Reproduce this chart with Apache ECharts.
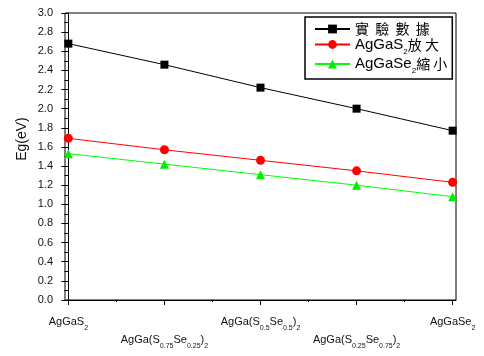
<!DOCTYPE html>
<html>
<head>
<meta charset="utf-8">
<script src="https://cdn.jsdelivr.net/npm/echarts@6/dist/echarts.min.js"></script>
<style>
  html, body { margin: 0; padding: 0; background: #fff; }
  #chart { width: 484px; height: 356px; }
</style>
</head>
<body>
<div id="chart"></div>
<script>
// 样品（x 轴位置 0..4）
const samples = [0, 1, 2, 3, 4];
const sampleLabels = [
    'AgGaS{s|2}',
    'AgGa(S{s|0.75}Se{s|0.25}){s|2}',
    'AgGa(S{s|0.5}Se{s|0.5}){s|2}',
    'AgGa(S{s|0.25}Se{s|0.75}){s|2}',
    'AgGaSe{s|2}'
];
// 能隙数据 (eV)
const expData = [2.68, 2.46, 2.22, 2.00, 1.77];
const sData = [1.69, 1.57, 1.46, 1.35, 1.23];
const seData = [1.53, 1.42, 1.31, 1.20, 1.08];
const seriesNames = ['實驗數據', 'AgGaS2放大', 'AgGaSe2縮小'];
const legendLabels = ['{c|實  驗  數  據}', '{t|AgGaS}{s|2}{c|放 大}', '{t|AgGaSe}{s|2}{c|縮 小}'];

const font = '"Liberation Sans", Arial, "Noto Sans CJK TC", sans-serif';
const cjkFont = '"Noto Sans CJK TC", sans-serif';
const pairs = (ys) => samples.map((x, i) => [x, ys[i]]);

const chart = echarts.init(document.getElementById('chart'));

// 下标：主文字贴顶、下标贴底，靠行高拉开
const labelRich = {
    n: { fontSize: 11, fontFamily: font, color: '#111', verticalAlign: 'top', lineHeight: 16 },
    s: { fontSize: 7, fontFamily: font, color: '#111', verticalAlign: 'bottom' }
};
const fmtSample = (v) => {
    const i = Math.round(v);
    return sampleLabels[i].replace(/(^|\})([^{}]+?)(?=\{|$)/g, (m, a, b) => a + '{n|' + b + '}');
};

chart.setOption({
    animation: false,
    backgroundColor: '#fff',
    grid: { left: 65, right: 28, top: 13, bottom: 56, show: true, borderColor: '#000', borderWidth: 1 },
    legend: {
        orient: 'vertical',
        left: 305,
        top: 17,
        data: seriesNames,
        backgroundColor: '#fff',
        borderColor: '#000',
        borderWidth: 1.5,
        borderRadius: 0,
        padding: [5, 5, 4, 9],
        itemWidth: 35,
        itemHeight: 11,
        itemGap: 1,
        formatter: (name) => legendLabels[seriesNames.indexOf(name)],
        textStyle: {
            fontSize: 15,
            fontFamily: font,
            color: '#000',
            rich: {
                t: { fontSize: 15, fontFamily: font, color: '#000', lineHeight: 22, verticalAlign: 'middle' },
                c: { fontSize: 14, fontFamily: cjkFont, color: '#000', lineHeight: 22, verticalAlign: 'middle' },
                s: { fontSize: 8, fontFamily: font, color: '#000', verticalAlign: 'bottom' }
            }
        }
    },
    xAxis: [
        {
            type: 'value',
            min: -0.035,
            max: 4.035,
            position: 'bottom',
            splitLine: { show: false },
            axisLine: { lineStyle: { color: '#000', width: 1 } },
            axisTick: { customValues: samples, length: 5, lineStyle: { color: '#000' } },
            axisLabel: {
                customValues: [0, 2, 4],
                margin: 16,
                formatter: fmtSample,
                rich: labelRich
            }
        },
        {
            type: 'value',
            min: -0.035,
            max: 4.035,
            position: 'bottom',
            splitLine: { show: false },
            axisLine: { show: false },
            axisTick: { customValues: [0.5, 1.5, 2.5, 3.5], length: 2, lineStyle: { color: '#000' } },
            axisLabel: {
                customValues: [1, 3],
                margin: 34,
                formatter: fmtSample,
                rich: labelRich
            }
        }
    ],
    yAxis: {
        type: 'value',
        min: 0,
        max: 3,
        interval: 0.2,
        splitLine: { show: false },
        axisLine: { show: true, lineStyle: { color: '#000', width: 1 } },
        axisTick: { show: true, length: 7, lineStyle: { color: '#000' } },
        minorTick: { show: true, splitNumber: 2, length: 4, lineStyle: { color: '#000' } },
        axisLabel: {
            margin: 12,
            fontSize: 11,
            fontFamily: font,
            color: '#111',
            formatter: (v) => v.toFixed(1)
        }
    },
    graphic: [
        {
            type: 'text',
            x: 22,
            y: 139,
            rotation: Math.PI / 2,
            style: {
                text: 'Eg(eV)',
                fontSize: 14,
                fontFamily: font,
                fill: '#111',
                align: 'center',
                verticalAlign: 'middle'
            }
        }
    ],
    series: [
        {
            name: seriesNames[2],
            type: 'line',
            data: pairs(seData),
            symbol: 'triangle',
            symbolSize: 9,
            itemStyle: { color: '#00ee00' },
            lineStyle: { color: '#00ff00', width: 1 },
            z: 2
        },
        {
            name: seriesNames[1],
            type: 'line',
            data: pairs(sData),
            symbol: 'circle',
            symbolSize: 9,
            itemStyle: { color: '#ff0000' },
            lineStyle: { color: '#ff0000', width: 1 },
            z: 3
        },
        {
            name: seriesNames[0],
            type: 'line',
            data: pairs(expData),
            symbol: 'rect',
            symbolSize: 8,
            itemStyle: { color: '#000' },
            lineStyle: { color: '#000', width: 1 },
            z: 4
        }
    ]
});

window.addEventListener('resize', () => chart.resize());
</script>
</body>
</html>
